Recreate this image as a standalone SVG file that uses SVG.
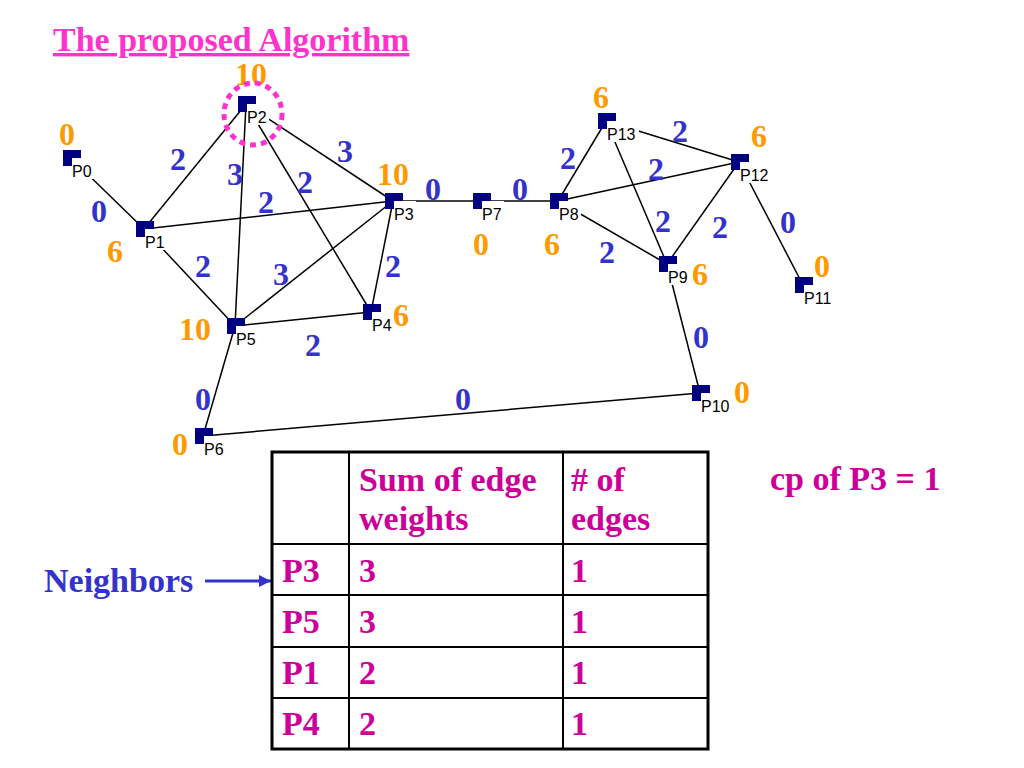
<svg xmlns="http://www.w3.org/2000/svg" width="1024" height="768" viewBox="0 0 1024 768">
<defs>
<style>
.edge{stroke:#000;stroke-width:1.5;fill:none}
.sq{fill:#000080}
.lbg{fill:#fff}
.lbl{font-family:"Liberation Sans",Arial,sans-serif;font-size:16px;fill:#000}
.w{font-family:"Liberation Serif","Times New Roman",serif;font-weight:bold;font-size:32px;fill:#3333cc}
.o{font-family:"Liberation Serif","Times New Roman",serif;font-weight:bold;font-size:32px;fill:#ff9900}
.t{font-family:"Liberation Serif","Times New Roman",serif;font-weight:bold;font-size:34px;fill:#cc0099}
.grid{stroke:#000;stroke-width:2}
</style>
<marker id="arr" viewBox="0 0 10 10" refX="10" refY="5" markerWidth="4" markerHeight="4" orient="auto" markerUnits="strokeWidth">
<path d="M0,0 L10,5 L0,10 z" fill="#3333cc"/>
</marker>
</defs>
<rect width="1024" height="768" fill="#fff"/>

<text x="53" y="51" font-family="'Liberation Serif','Times New Roman',serif" font-weight="bold" font-size="34" fill="#ff33cc" text-decoration="underline">The proposed Algorithm</text>

<g id="connectors">
<line class="edge" x1="71" y1="158" x2="144" y2="229"/>
<line class="edge" x1="144" y1="229" x2="246" y2="104"/>
<line class="edge" x1="144" y1="229" x2="393" y2="201"/>
<line class="edge" x1="144" y1="229" x2="235" y2="326"/>
<line class="edge" x1="246" y1="104" x2="235" y2="326"/>
<line class="edge" x1="246" y1="104" x2="393" y2="201"/>
<line class="edge" x1="246" y1="104" x2="371" y2="312"/>
<line class="edge" x1="393" y1="201" x2="235" y2="326"/>
<line class="edge" x1="393" y1="201" x2="371" y2="312"/>
<line class="edge" x1="371" y1="312" x2="235" y2="326"/>
<line class="edge" x1="235" y1="326" x2="203" y2="436"/>
<line class="edge" x1="203" y1="436" x2="700" y2="393"/>
<line class="edge" x1="393" y1="201" x2="481" y2="201"/>
<line class="edge" x1="481" y1="201" x2="558" y2="201"/>
<line class="edge" x1="558" y1="201" x2="606" y2="121"/>
<line class="edge" x1="558" y1="201" x2="739" y2="162"/>
<line class="edge" x1="558" y1="201" x2="667" y2="264"/>
<line class="edge" x1="606" y1="121" x2="739" y2="162"/>
<line class="edge" x1="606" y1="121" x2="667" y2="264"/>
<line class="edge" x1="739" y1="162" x2="667" y2="264"/>
<line class="edge" x1="739" y1="162" x2="803" y2="285"/>
<line class="edge" x1="667" y1="264" x2="700" y2="393"/>
<text class="w" x="170" y="170">2</text>
<text class="w" x="227" y="185">3</text>
<text class="w" x="297" y="193">2</text>
<text class="w" x="337" y="162">3</text>
<text class="w" x="91" y="222">0</text>
<text class="w" x="258" y="213">2</text>
<text class="w" x="195" y="277">2</text>
<text class="w" x="273" y="285">3</text>
<text class="w" x="385" y="277">2</text>
<text class="w" x="305" y="356">2</text>
<text class="w" x="195" y="410">0</text>
<text class="w" x="455" y="410">0</text>
<text class="w" x="425" y="200">0</text>
<text class="w" x="512" y="200">0</text>
<text class="w" x="560" y="169">2</text>
<text class="w" x="672" y="142">2</text>
<text class="w" x="648" y="180">2</text>
<text class="w" x="655" y="232">2</text>
<text class="w" x="712" y="238">2</text>
<text class="w" x="599" y="263">2</text>
<text class="w" x="780" y="233">0</text>
<text class="w" x="693" y="348">0</text>
</g>

<g id="P0"><rect class="sq" x="63" y="150" width="18" height="16"/><rect class="lbg" x="72" y="158" width="22" height="21"/><text class="lbl" x="72" y="177">P0</text><text class="o" x="59" y="145">0</text></g>
<g id="P1"><rect class="sq" x="136" y="221" width="18" height="16"/><rect class="lbg" x="145" y="229" width="22" height="21"/><text class="lbl" x="145" y="248">P1</text><text class="o" x="107" y="262">6</text></g>
<g id="P2"><rect class="sq" x="238" y="96" width="18" height="16"/><rect class="lbg" x="247" y="104" width="22" height="21"/><text class="lbl" x="247" y="123">P2</text><text class="o" x="235" y="85">10</text></g>
<g id="P3"><rect class="sq" x="385" y="193" width="18" height="16"/><rect class="lbg" x="394" y="201" width="22" height="21"/><text class="lbl" x="394" y="220">P3</text><text class="o" x="377" y="185">10</text></g>
<g id="P4"><rect class="sq" x="363" y="304" width="18" height="16"/><rect class="lbg" x="372" y="312" width="22" height="21"/><text class="lbl" x="372" y="331">P4</text><text class="o" x="393" y="326">6</text></g>
<g id="P5"><rect class="sq" x="227" y="318" width="18" height="16"/><rect class="lbg" x="236" y="326" width="22" height="21"/><text class="lbl" x="236" y="345">P5</text><text class="o" x="179" y="340">10</text></g>
<g id="P6"><rect class="sq" x="195" y="428" width="18" height="16"/><rect class="lbg" x="204" y="436" width="22" height="21"/><text class="lbl" x="204" y="455">P6</text><text class="o" x="172" y="455">0</text></g>
<g id="P7"><rect class="sq" x="473" y="193" width="18" height="16"/><rect class="lbg" x="482" y="201" width="22" height="21"/><text class="lbl" x="482" y="220">P7</text><text class="o" x="473" y="255">0</text></g>
<g id="P8"><rect class="sq" x="550" y="193" width="18" height="16"/><rect class="lbg" x="559" y="201" width="22" height="21"/><text class="lbl" x="559" y="220">P8</text><text class="o" x="544" y="255">6</text></g>
<g id="P9"><rect class="sq" x="659" y="256" width="18" height="16"/><rect class="lbg" x="668" y="264" width="22" height="21"/><text class="lbl" x="668" y="283">P9</text><text class="o" x="692" y="285">6</text></g>
<g id="P10"><rect class="sq" x="692" y="385" width="18" height="16"/><rect class="lbg" x="701" y="393" width="32" height="21"/><text class="lbl" x="701" y="412">P10</text><text class="o" x="734" y="403">0</text></g>
<g id="P11"><rect class="sq" x="795" y="277" width="18" height="16"/><rect class="lbg" x="804" y="285" width="32" height="21"/><text class="lbl" x="804" y="304">P11</text><text class="o" x="814" y="277">0</text></g>
<g id="P12"><rect class="sq" x="731" y="154" width="18" height="16"/><rect class="lbg" x="740" y="162" width="32" height="21"/><text class="lbl" x="740" y="181">P12</text><text class="o" x="751" y="147">6</text></g>
<g id="P13"><rect class="sq" x="598" y="113" width="18" height="16"/><rect class="lbg" x="607" y="121" width="32" height="21"/><text class="lbl" x="607" y="140">P13</text><text class="o" x="593" y="108">6</text></g>

<ellipse id="highlight" cx="253" cy="114" rx="29" ry="31" fill="none" stroke="#ff33cc" stroke-width="5" stroke-dasharray="6 5"/>

<g id="neighbors">
<text x="44" y="592" font-family="'Liberation Serif','Times New Roman',serif" font-weight="bold" font-size="34" fill="#3333cc">Neighbors</text>
<line x1="205" y1="581" x2="271" y2="581" stroke="#3333cc" stroke-width="3" marker-end="url(#arr)"/>
</g>

<g id="table">
<rect x="272" y="452" width="436" height="297" fill="#fff" stroke="#000" stroke-width="3"/>
<line class="grid" x1="349" y1="452" x2="349" y2="749"/>
<line class="grid" x1="563" y1="452" x2="563" y2="749"/>
<line class="grid" x1="272" y1="544" x2="708" y2="544"/>
<line class="grid" x1="272" y1="595" x2="708" y2="595"/>
<line class="grid" x1="272" y1="647" x2="708" y2="647"/>
<line class="grid" x1="272" y1="698" x2="708" y2="698"/>
<text class="t" x="359" y="491">Sum of edge</text>
<text class="t" x="359" y="530">weights</text>
<text class="t" x="571" y="491"># of</text>
<text class="t" x="571" y="530">edges</text>
<text class="t" x="282" y="582">P3</text><text class="t" x="359" y="582">3</text><text class="t" x="571" y="582">1</text>
<text class="t" x="282" y="633">P5</text><text class="t" x="359" y="633">3</text><text class="t" x="571" y="633">1</text>
<text class="t" x="282" y="684">P1</text><text class="t" x="359" y="684">2</text><text class="t" x="571" y="684">1</text>
<text class="t" x="282" y="735">P4</text><text class="t" x="359" y="735">2</text><text class="t" x="571" y="735">1</text>
</g>

<text x="770" y="490" font-family="'Liberation Serif','Times New Roman',serif" font-weight="bold" font-size="34" fill="#cc0099">cp of P3 = 1</text>
</svg>
